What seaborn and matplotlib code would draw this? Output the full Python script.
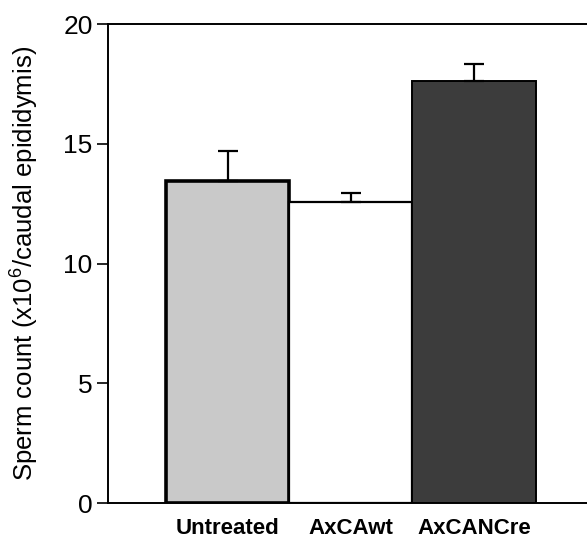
import numpy as np
import pandas as pd
import matplotlib
matplotlib.use('Agg')
import matplotlib.pyplot as plt
import seaborn as sns

# values
groups = ['Untreated', 'AxCAwt', 'AxCANCre']
counts = [13.45, 12.57, 17.62]
err_up = [1.25, 0.37, 0.71]
bar_colors = ['#c9c9c9', '#ffffff', '#3c3c3c']
edge_widths = [2.6, 1.6, 1.4]
y_ticks = [0, 5, 10, 15, 20]

sns.set_style('ticks')
plt.rcParams['font.family'] = ['Liberation Sans', 'DejaVu Sans']
plt.rcParams['mathtext.default'] = 'regular'

df = pd.DataFrame({'group': groups, 'count': counts})

fig = plt.figure(figsize=(5.87, 5.4), dpi=100)
# axes run a bit past the right edge, as in the cropped original
ax = fig.add_axes([0.184, 0.0685, 0.84, 0.887])

sns.barplot(data=df, x='group', y='count', hue='group', palette=bar_colors,
            width=1.0, edgecolor='black', linewidth=1.6, legend=False, ax=ax,
            errorbar=None)
for patch, lw in zip(ax.patches, edge_widths):
    patch.set_linewidth(lw)

# one-sided error bars (upper only)
x = np.arange(len(groups))
ax.errorbar(x, counts, yerr=[np.zeros(len(counts)), err_up], fmt='none',
            ecolor='black', elinewidth=1.6, capsize=7, capthick=1.6, zorder=5)

ax.set_ylim(0, 20)
ax.set_xlim(-0.97, 3.03)
ax.set_yticks(y_ticks)
ax.tick_params(axis='y', direction='out', length=8, width=1.2, labelsize=19,
               pad=3, colors='black')
ax.tick_params(axis='x', length=0, labelsize=16, pad=11, colors='black')
for lbl in ax.get_xticklabels():
    lbl.set_fontweight('bold')

ax.set_xlabel('')
ax.set_ylabel('Sperm count (x10$^6$/caudal epididymis)', fontsize=18.5,
              labelpad=16, color='black')

ax.spines['right'].set_visible(False)
for s in ['left', 'top', 'bottom']:
    ax.spines[s].set_linewidth(1.4)
    ax.spines[s].set_color('black')

fig.savefig('out.png', dpi=100)
